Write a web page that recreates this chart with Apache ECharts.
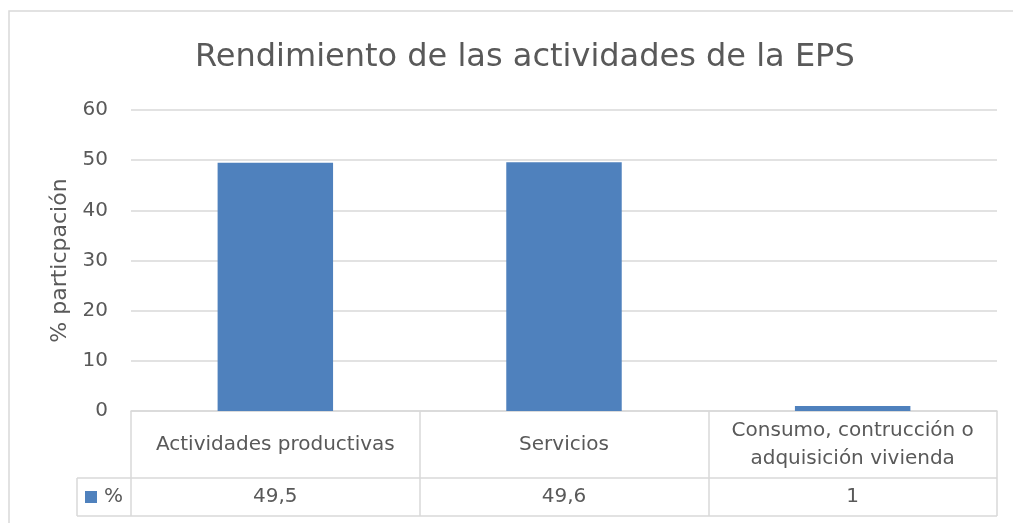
<!DOCTYPE html>
<html>
<head>
<meta charset="utf-8">
<script src="https://cdn.jsdelivr.net/npm/echarts@6/dist/echarts.min.js"></script>
<style>
  html, body { margin: 0; padding: 0; background: #fff; }
  #chart { width: 1013px; height: 523px; }
</style>
</head>
<body>
<div id="chart"></div>
<script>
const categorias = ['Actividades productivas', 'Servicios', 'Consumo, contrucción o\nadquisición vivienda'];
const valores = [49.5, 49.6, 1];
const valoresTexto = ['49,5', '49,6', '1'];
const serieNombre = '%';

const FONT = '"DejaVu Sans", sans-serif';
const GRIS = '#595959';
const LINEA = '#d9d9d9';

// geometría del área de trazado y de la tabla de datos
const L = 131, R = 997, TOP = 110, Y0 = 411, FILA1 = 478, FILA2 = 516, LEYX = 77;

const chart = echarts.init(document.getElementById('chart'), null, { renderer: 'canvas' });

chart.setOption({
  backgroundColor: '#fff',
  animation: false,
  title: {
    text: 'Rendimiento de las actividades de la EPS',
    left: 190, top: 37,
    textStyle: { fontFamily: FONT, fontSize: 32, fontWeight: 'normal', color: GRIS },
  },
  legend: {
    left: LEYX + 3, top: 482,
    itemWidth: 12, itemHeight: 12, itemGap: 5,
    icon: 'rect',
    textStyle: { fontFamily: FONT, fontSize: 20, color: GRIS, padding: [0, 0, 0, 2] },
    data: [serieNombre],
  },
  grid: { left: L, right: 1013 - R, top: TOP, bottom: 523 - Y0, containLabel: false },
  xAxis: [
    {
      type: 'category', data: categorias, position: 'bottom',
      axisLine: { show: true, lineStyle: { color: LINEA, width: 1.5 } },
      axisTick: { show: true, alignWithLabel: false, length: FILA2 - Y0, lineStyle: { color: LINEA, width: 1.5 } },
      axisLabel: {
        margin: (FILA1 - Y0) / 2, lineHeight: 28, verticalAlign: 'middle',
        fontFamily: FONT, fontSize: 20, color: GRIS, interval: 0,
      },
      splitLine: { show: false },
    },
    {
      type: 'category', data: valoresTexto, position: 'bottom', offset: FILA1 - Y0,
      axisLine: { show: false }, axisTick: { show: false },
      axisLabel: { margin: (FILA2 - FILA1) / 2, verticalAlign: 'middle', fontFamily: FONT, fontSize: 20, color: GRIS, interval: 0 },
    },
  ],
  yAxis: {
    type: 'value', min: 0, max: 60, interval: 10,
    name: '% particpación', nameLocation: 'middle', nameGap: 58, nameRotate: 90,
    nameTextStyle: { fontFamily: FONT, fontSize: 22, color: GRIS },
    axisLine: { show: false }, axisTick: { show: false },
    axisLabel: { margin: 23, fontFamily: FONT, fontSize: 20, color: GRIS },
    splitLine: { lineStyle: { color: LINEA, width: 1.5 } },
  },
  series: [{
    name: serieNombre, type: 'bar', data: valores, xAxisIndex: 0,
    barWidth: '40%',
    itemStyle: { color: '#4f81bd' },
  }],
  graphic: [
    // marco exterior
    { type: 'rect', shape: { x: 9, y: 11, width: 1020, height: 540 }, style: { fill: 'none', stroke: LINEA, lineWidth: 1.5 }, silent: true },
    // líneas de la tabla de datos
    { type: 'line', shape: { x1: LEYX, y1: FILA1, x2: R, y2: FILA1 }, style: { stroke: LINEA, lineWidth: 1.5 }, silent: true },
    { type: 'line', shape: { x1: LEYX, y1: FILA2, x2: R, y2: FILA2 }, style: { stroke: LINEA, lineWidth: 1.5 }, silent: true },
    { type: 'line', shape: { x1: LEYX, y1: FILA1, x2: LEYX, y2: FILA2 }, style: { stroke: LINEA, lineWidth: 1.5 }, silent: true },
  ],
});
</script>
</body>
</html>
